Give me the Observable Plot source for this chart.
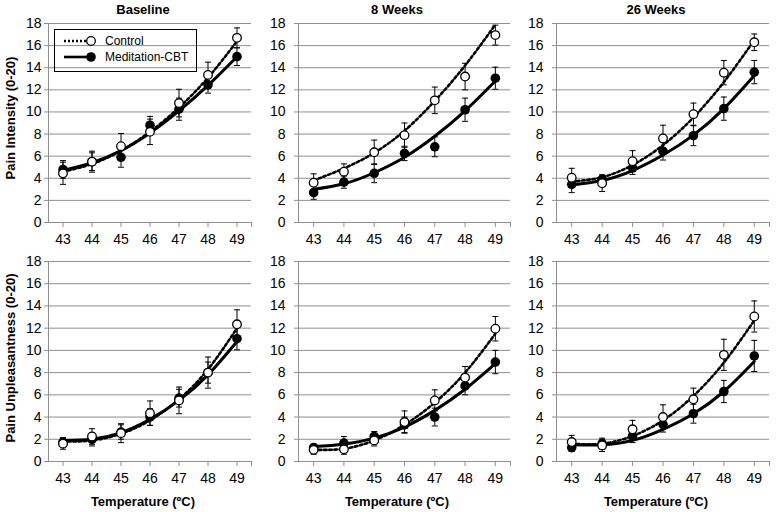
<!DOCTYPE html>
<html>
<head>
<meta charset="utf-8">
<script src="https://cdn.jsdelivr.net/npm/d3@7"></script>
<script src="https://cdn.jsdelivr.net/npm/@observablehq/plot@0.6"></script>
<style>
  html, body { margin: 0; padding: 0; background: #fff; }
  #root { position: relative; width: 783px; height: 512px; overflow: hidden; background: #fff;
          font-family: 'Liberation Sans', Arial, sans-serif; color: #000; }
  .panel { position: absolute; }
  .panel svg text { font-family: 'Liberation Sans', Arial, sans-serif; }
  .lbl { position: absolute; white-space: nowrap; font-weight: bold; font-size: 13px; transform: translate(-50%, -50%); }
  .ylbl { position: absolute; white-space: nowrap; font-weight: bold; font-size: 13px; transform: translate(-50%, -50%) rotate(-90deg); }
  #legend { position: absolute; left: 54px; top: 29px; width: 141px; height: 41px; border: 1.5px solid #000; font-size: 12px; }
  #legend .row { position: absolute; left: 8px; display: flex; align-items: center; }
  #legend svg { display: block; }
  #legend span { margin-left: 6px; }
</style>
</head>
<body>
<div id="root"></div>
<script>
// ---- Data ----
const temps = [43, 44, 45, 46, 47, 48, 49];
const xEdges = [42.5, 49.5];
const yTicks = [0, 2, 4, 6, 8, 10, 12, 14, 16, 18];
const gridTicks = [2, 4, 6, 8, 10, 12, 14, 16, 18];
const timepoints = ["Baseline", "8 Weeks", "26 Weeks"];
const measures = ["Pain Intensity (0-20)", "Pain Unpleasantness (0-20)"];
const xTitle = "Temperature (ºC)";
const groups = ["Control", "Meditation-CBT"];

// Pain intensity
const intBaseCtrl    = [4.45, 5.5, 6.9, 8.2, 10.8, 13.35, 16.7];
const intBaseCtrlErr = [1.0, 0.95, 1.15, 1.15, 1.25, 1.15, 0.9];
const intBaseCtrlFit = [4.6, 5.3, 6.5, 8.2, 10.4, 13.1, 16.4];
const intBaseMed     = [4.8, 5.5, 5.9, 8.8, 10.25, 12.45, 15.0];
const intBaseMedErr  = [0.8, 0.8, 0.9, 0.8, 1.0, 0.75, 0.8];
const intBaseMedFit  = [4.7, 5.4, 6.5, 8.1, 10.1, 12.4, 15.0];

const int8Ctrl    = [3.6, 4.6, 6.35, 7.9, 11.05, 13.2, 16.95];
const int8CtrlErr = [0.8, 0.7, 1.1, 1.1, 1.2, 1.2, 0.9];
const int8CtrlFit = [3.8, 4.9, 6.3, 8.3, 11.0, 14.2, 17.9];
const int8Med     = [2.7, 3.65, 4.45, 6.25, 6.85, 10.2, 13.05];
const int8MedErr  = [0.6, 0.55, 0.85, 0.65, 0.9, 1.05, 1.0];
const int8MedFit  = [3.0, 3.5, 4.5, 5.9, 7.8, 10.1, 12.8];

const int26Ctrl    = [4.05, 3.55, 5.55, 7.6, 9.8, 13.55, 16.3];
const int26CtrlErr = [0.85, 0.75, 0.95, 1.2, 1.0, 1.1, 0.75];
const int26CtrlFit = [3.7, 4.1, 5.2, 7.0, 9.5, 12.7, 16.5];
const int26Med     = [3.45, 3.9, 4.95, 6.45, 7.85, 10.3, 13.6];
const int26MedErr  = [0.75, 0.4, 0.6, 0.8, 0.9, 1.05, 1.05];
const int26MedFit  = [3.4, 3.8, 4.7, 6.1, 7.9, 10.3, 13.3];

// Pain unpleasantness
const unpBaseCtrl    = [1.6, 2.25, 2.55, 4.35, 5.5, 8.0, 12.35];
const unpBaseCtrlErr = [0.5, 0.7, 0.85, 1.1, 1.2, 1.4, 1.3];
const unpBaseCtrlFit = [1.8, 1.9, 2.5, 3.7, 5.6, 8.3, 12.0];
const unpBaseMed     = [1.75, 2.0, 2.65, 4.0, 5.7, 8.0, 11.05];
const unpBaseMedErr  = [0.4, 0.6, 0.65, 0.75, 0.8, 0.95, 1.0];
const unpBaseMedFit  = [1.9, 2.0, 2.6, 3.8, 5.5, 7.8, 10.8];

const unp8Ctrl    = [1.05, 1.1, 1.9, 3.55, 5.5, 7.55, 11.95];
const unp8CtrlErr = [0.4, 0.45, 0.5, 1.0, 0.95, 1.0, 1.1];
const unp8CtrlFit = [1.05, 1.15, 1.9, 3.3, 5.3, 8.0, 11.5];
const unp8Med     = [1.25, 1.65, 2.25, 3.3, 4.0, 6.8, 8.95];
const unp8MedErr  = [0.3, 0.6, 0.45, 0.7, 0.8, 0.8, 1.05];
const unp8MedFit  = [1.35, 1.55, 2.1, 3.1, 4.6, 6.5, 8.8];

const unp26Ctrl    = [1.75, 1.45, 2.9, 4.0, 5.6, 9.6, 13.05];
const unp26CtrlErr = [0.6, 0.55, 0.8, 1.1, 1.0, 1.4, 1.4];
const unp26CtrlFit = [1.6, 1.6, 2.3, 3.7, 5.9, 8.9, 12.7];
const unp26Med     = [1.25, 1.6, 2.3, 3.35, 4.3, 6.3, 9.5];
const unp26MedErr  = [0.35, 0.5, 0.6, 0.7, 0.85, 1.0, 1.4];
const unp26MedFit  = [1.5, 1.5, 1.9, 2.9, 4.3, 6.3, 9.0];

const panelSeries = [
  [[intBaseCtrl, intBaseCtrlErr, intBaseCtrlFit, intBaseMed, intBaseMedErr, intBaseMedFit],
   [int8Ctrl, int8CtrlErr, int8CtrlFit, int8Med, int8MedErr, int8MedFit],
   [int26Ctrl, int26CtrlErr, int26CtrlFit, int26Med, int26MedErr, int26MedFit]],
  [[unpBaseCtrl, unpBaseCtrlErr, unpBaseCtrlFit, unpBaseMed, unpBaseMedErr, unpBaseMedFit],
   [unp8Ctrl, unp8CtrlErr, unp8CtrlFit, unp8Med, unp8MedErr, unp8MedFit],
   [unp26Ctrl, unp26CtrlErr, unp26CtrlFit, unp26Med, unp26MedErr, unp26MedFit]]
];

// ---- Layout ----
const colLeft = [0, 260, 515], colWidth = [260, 260, 268];
const colML = [48, 38, 41], colMR = [9, 10, 14], colPad = [3, 9, 9];
const rowTop = [0, 250], rowHeight = [256, 262], rowMT = [23, 11], rowMB = [34, 51];
const colCenter = [143, 397, 656];
const gray = "#8f8f8f";
const fontFamily = "'Liberation Sans', Arial, sans-serif";

const capSymbol = { draw(ctx, size) { const r = Math.sqrt(size / Math.PI); ctx.moveTo(-r, 0); ctx.lineTo(r, 0); } };

function rowsOf(mean, err, fit) {
  return temps.map((t, i) => ({ t, m: mean[i], lo: mean[i] - err[i], hi: mean[i] + err[i], fit: fit[i] }));
}

function panel(r, c) {
  const [cm, ce, cf, mm, me, mf] = panelSeries[r][c];
  const ctrl = rowsOf(cm, ce, cf), med = rowsOf(mm, me, mf);
  const errMarks = (rows) => [
    Plot.ruleX(rows, { x: "t", y1: "lo", y2: "hi", stroke: "#000", strokeWidth: 1 }),
    Plot.dot(rows, { x: "t", y: "lo", symbol: capSymbol, r: 3, stroke: "#000", fill: "none", strokeWidth: 1 }),
    Plot.dot(rows, { x: "t", y: "hi", symbol: capSymbol, r: 3, stroke: "#000", fill: "none", strokeWidth: 1 })
  ];
  return Plot.plot({
    width: colWidth[c], height: rowHeight[r],
    marginLeft: colML[c], marginRight: colMR[c], marginTop: rowMT[r], marginBottom: rowMB[r],
    x: { type: "linear", domain: xEdges },
    y: { domain: [0, 18] },
    style: { background: "transparent", fontFamily, fontSize: "14px", color: "#000", overflow: "visible" },
    marks: [
      Plot.gridY(gridTicks, { stroke: gray, strokeOpacity: 1, strokeWidth: 1 }),
      Plot.ruleY([0], { stroke: gray, strokeWidth: 1 }),
      Plot.ruleX([xEdges[0]], { stroke: gray, strokeWidth: 1 }),
      Plot.axisY({ ticks: yTicks, tickSize: 4, tickPadding: colPad[c], stroke: gray, fill: "#000", label: null, fontSize: 14, tickFormat: d => String(d) }),
      Plot.axisX({ ticks: temps, tickSize: 5, tickPadding: 7, stroke: gray, fill: "#000", label: null, fontSize: 14, tickFormat: d => String(d) }),
      Plot.axisX({ ticks: [xEdges[1]], tickSize: 5, stroke: gray, label: null, tickFormat: () => "" }),
      ...errMarks(med),
      ...errMarks(ctrl),
      Plot.line(med, { x: "t", y: "fit", curve: "natural", stroke: "#000", strokeWidth: 3 }),
      Plot.line(ctrl, { x: "t", y: "fit", curve: "natural", stroke: "#000", strokeWidth: 2.6, strokeDasharray: "2.6,2.6" }),
      Plot.dot(med, { x: "t", y: "m", r: 4.8, fill: "#000", stroke: "none" }),
      Plot.dot(ctrl, { x: "t", y: "m", r: 4.3, fill: "#fff", stroke: "#000", strokeWidth: 1.3 })
    ]
  });
}

const root = document.getElementById("root");
for (let r = 0; r < 2; r++) {
  for (let c = 0; c < 3; c++) {
    const d = document.createElement("div");
    d.className = "panel";
    d.style.left = colLeft[c] + "px";
    d.style.top = rowTop[r] + "px";
    d.appendChild(panel(r, c));
    root.appendChild(d);
  }
}
function addLabel(cls, text, x, y) {
  const d = document.createElement("div");
  d.className = cls; d.textContent = text;
  d.style.left = x + "px"; d.style.top = y + "px";
  root.appendChild(d);
}
timepoints.forEach((t, c) => addLabel("lbl", t, colCenter[c], 8.5));
timepoints.forEach((t, c) => addLabel("lbl", xTitle, colCenter[c], 501));
addLabel("ylbl", measures[0], 10, 118);
addLabel("ylbl", measures[1], 10, 358);

// Legend
const leg = document.createElement("div");
leg.id = "legend";
leg.innerHTML =
  `<div class="row" style="top:4px"><svg width="36" height="12"><line x1="1" y1="6" x2="28" y2="6" stroke="#000" stroke-width="2.4" stroke-dasharray="2,2"/><circle cx="28" cy="6" r="4.3" fill="#fff" stroke="#000" stroke-width="1.3"/></svg><span>${groups[0]}</span></div>` +
  `<div class="row" style="top:20px"><svg width="36" height="12"><line x1="1" y1="6" x2="28" y2="6" stroke="#000" stroke-width="2.6"/><circle cx="28" cy="6" r="4.8" fill="#000"/></svg><span>${groups[1]}</span></div>`;
root.appendChild(leg);
</script>
</body>
</html>
